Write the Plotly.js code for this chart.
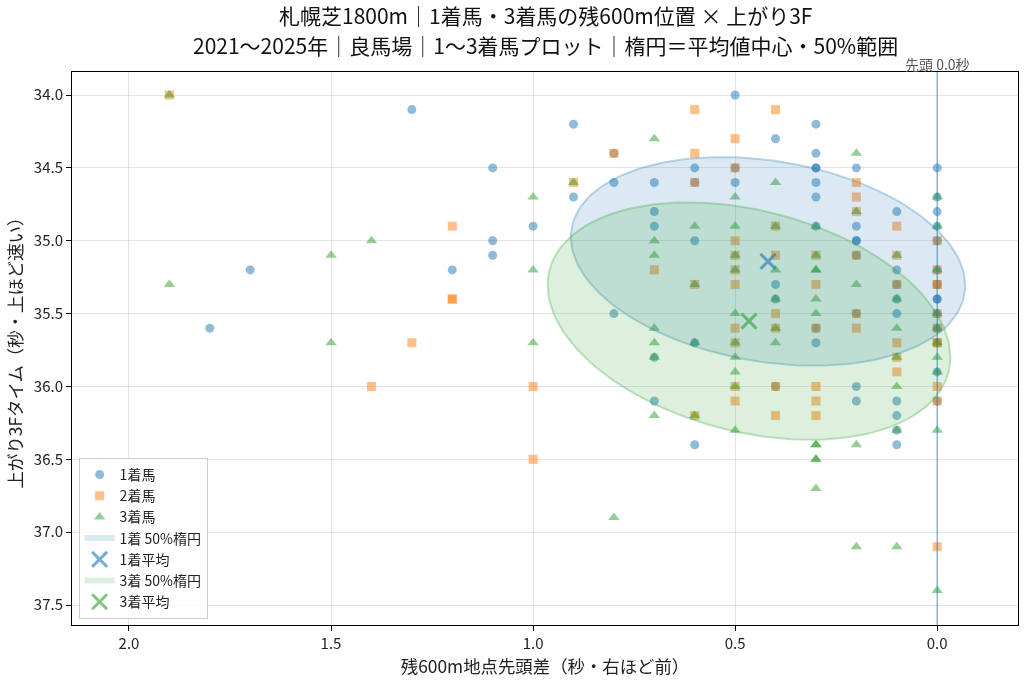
<!DOCTYPE html>
<html>
<head>
<meta charset="utf-8">
<script src="https://cdn.plot.ly/plotly-3.0.1.min.js"></script>
<style>
  html, body { margin: 0; padding: 0; background: #fff; }
  #chart { width: 1024px; height: 681px; }
  #chart .main-svg { will-change: transform; }
</style>
</head>
<body>
<div id="chart"></div>
<script>
// ---- Data (x: 残600m地点先頭差 秒, y: 上がり3F 秒) ----
const first_x = [1.3,1.1,1.0,1.1,1.1,1.7,1.2,1.8,0.9,0.9,0.8,0.8,0.8,
  0.7,0.7,0.7,0.7,0.7,
  0.6,0.6,0.6,0.6,0.6,
  0.5,0.5,0.5,
  0.4,0.4,0.4,0.4,
  0.3,0.3,0.3,0.3,0.3,0.3,0.3,0.3,0.3,
  0.2,0.2,0.2,0.2,0.2,0.2,0.2,0.2,
  0.1,0.1,0.1,0.1,0.1,0.1,0.1,0.1,0.1,
  0.0,0.0,0.0,0.0,0.0,0.0,0.0,0.0,0.0,0.0,0.0,0.0,0.0,0.0];
const first_y = [34.1,34.5,34.9,35.0,35.1,35.2,35.2,35.6,34.2,34.7,34.4,34.6,35.5,
  34.6,34.8,34.9,35.8,36.1,
  34.5,34.6,35.0,35.7,36.4,
  34.0,34.5,34.6,
  34.3,35.3,35.4,36.0,
  34.2,34.4,34.5,34.5,34.6,34.7,34.9,35.6,35.7,
  34.5,34.9,35.0,35.0,35.1,35.5,36.0,36.1,
  34.8,35.2,35.3,35.4,35.5,36.1,36.2,36.3,36.4,
  34.5,34.7,34.8,34.9,35.0,35.2,35.3,35.4,35.4,35.5,35.6,35.7,35.9,36.1];

const second_x = [1.9,1.2,1.2,1.2,1.3,1.4,1.0,1.0,0.9,0.8,
  0.7,
  0.6,0.6,0.6,0.6,0.6,
  0.5,0.5,0.5,0.5,0.5,0.5,0.5,0.5,0.5,0.5,
  0.4,0.4,0.4,0.4,0.4,0.4,0.4,
  0.3,0.3,0.3,0.3,0.3,0.3,
  0.2,0.2,0.2,0.2,0.2,0.2,
  0.1,0.1,0.1,0.1,0.1,0.1,
  0.0,0.0,0.0,0.0,0.0,0.0,0.0,0.0,0.0,0.0,0.0];
const second_y = [34.0,34.9,35.4,35.4,35.7,36.0,36.0,36.5,34.6,34.4,
  35.2,
  34.1,34.4,34.6,35.3,36.2,
  34.3,34.5,35.0,35.1,35.2,35.3,35.6,35.7,36.0,36.1,
  34.1,34.9,35.1,35.5,35.6,36.0,36.2,
  35.1,35.3,35.6,36.0,36.1,36.2,
  34.6,34.7,34.8,35.1,35.5,35.6,
  34.9,35.1,35.3,35.7,35.8,35.9,
  35.0,35.2,35.3,35.3,35.5,35.6,35.7,35.7,36.0,36.1,37.1];

const third_x = [1.9,1.0,1.4,1.5,1.0,1.9,1.5,1.0,0.9,0.8,
  0.7,0.7,0.7,0.7,0.7,0.7,0.7,
  0.6,0.6,0.6,0.6,
  0.5,0.5,0.5,0.5,0.5,0.5,0.5,0.5,0.5,0.5,
  0.4,0.4,0.4,0.4,0.4,0.4,
  0.3,0.3,0.3,0.3,0.3,0.3,0.3,0.3,0.3,0.3,0.3,
  0.2,0.2,0.2,0.2,0.2,
  0.1,0.1,0.1,0.1,0.1,0.1,0.1,
  0.0,0.0,0.0,0.0,0.0,0.0,0.0,0.0,0.0,0.0];
const third_y = [34.0,34.7,35.0,35.1,35.2,35.3,35.7,35.7,34.6,36.9,
  34.3,35.0,35.1,35.6,35.7,35.8,36.2,
  34.9,35.3,35.7,36.2,
  34.7,34.9,35.1,35.2,35.5,35.7,35.8,35.9,36.0,36.3,
  34.6,34.9,35.2,35.4,35.6,35.7,
  34.9,35.1,35.2,35.2,35.4,35.5,36.4,36.4,36.5,36.5,36.7,
  34.4,34.8,35.3,36.4,37.1,
  35.1,35.4,35.6,35.8,36.0,36.3,37.1,
  34.7,34.9,35.2,35.5,35.6,35.7,35.8,35.9,36.3,37.4];

const x_ticks = [0.0, 0.5, 1.0, 1.5, 2.0];
const y_ticks = [34.0, 34.5, 35.0, 35.5, 36.0, 36.5, 37.0, 37.5];
const ellipse_coverage = 0.5;   // 50% 範囲
const leader_line_x = 0.0;
const title_lines = [
  '札幌芝1800m｜1着馬・3着馬の残600m位置 × 上がり3F',
  '2021～2025年｜良馬場｜1～3着馬プロット｜楕円＝平均値中心・50%範囲'
];

// ---- Derived statistics ----
function stats(xs, ys) {
  const n = xs.length;
  const mx = xs.reduce((a, b) => a + b, 0) / n;
  const my = ys.reduce((a, b) => a + b, 0) / n;
  let sxx = 0, syy = 0, sxy = 0;
  for (let i = 0; i < n; i++) {
    sxx += (xs[i] - mx) ** 2;
    syy += (ys[i] - my) ** 2;
    sxy += (xs[i] - mx) * (ys[i] - my);
  }
  sxx /= n; syy /= n; sxy /= n;
  return { mx, my, sx: Math.sqrt(sxx), sy: Math.sqrt(syy), rho: sxy / Math.sqrt(sxx * syy) };
}
function ellipsePath(st) {
  const k = Math.sqrt(-2 * Math.log(1 - ellipse_coverage));
  const ex = [], ey = [];
  const N = 180;
  for (let i = 0; i <= N; i++) {
    const t = 2 * Math.PI * i / N;
    ex.push(st.mx + k * st.sx * Math.cos(t));
    ey.push(st.my + k * st.sy * (st.rho * Math.cos(t) + Math.sqrt(1 - st.rho * st.rho) * Math.sin(t)));
  }
  return { ex, ey };
}
const s1 = stats(first_x, first_y);
const s3 = stats(third_x, third_y);
const e1 = ellipsePath(s1);
const e3 = ellipsePath(s3);

const FONT = '"Noto Sans CJK JP", "Noto Sans", sans-serif';
const BLUE = '#1f77b4', ORANGE = '#ff7f0e', GREEN = '#2ca02c';

const traces = [
  { x: first_x, y: first_y, type: 'scatter', mode: 'markers', name: '1着馬', legendrank: 1,
    marker: { symbol: 'circle', size: 9, color: BLUE, opacity: 0.5, line: { width: 0 } } },
  { x: second_x, y: second_y, type: 'scatter', mode: 'markers', name: '2着馬', legendrank: 2,
    marker: { symbol: 'square', size: 9, color: ORANGE, opacity: 0.5, line: { width: 0 } } },
  { x: third_x, y: third_y, type: 'scatter', mode: 'markers', name: '3着馬', legendrank: 3,
    marker: { symbol: 'triangle-up', size: 10, color: GREEN, opacity: 0.5, line: { width: 0 } } },
  { x: e1.ex, y: e1.ey, type: 'scatter', mode: 'none', name: '1着 50%楕円', legendrank: 4,
    fill: 'toself', fillcolor: 'rgba(31,119,180,0.16)', hoverinfo: 'skip' },
  { x: e1.ex, y: e1.ey, type: 'scatter', mode: 'lines', showlegend: false,
    line: { color: 'rgba(31,119,180,0.28)', width: 2 }, hoverinfo: 'skip' },
  { x: e3.ex, y: e3.ey, type: 'scatter', mode: 'none', name: '3着 50%楕円', legendrank: 6,
    fill: 'toself', fillcolor: 'rgba(44,160,44,0.16)', hoverinfo: 'skip' },
  { x: e3.ex, y: e3.ey, type: 'scatter', mode: 'lines', showlegend: false,
    line: { color: 'rgba(44,160,44,0.28)', width: 2 }, hoverinfo: 'skip' },
  { x: [s1.mx], y: [s1.my], type: 'scatter', mode: 'markers', name: '1着平均', legendrank: 5,
    marker: { symbol: 'x-thin', size: 15, color: BLUE, opacity: 0.6, line: { width: 3, color: BLUE } } },
  { x: [s3.mx], y: [s3.my], type: 'scatter', mode: 'markers', name: '3着平均', legendrank: 7,
    marker: { symbol: 'x-thin', size: 15, color: GREEN, opacity: 0.6, line: { width: 3, color: GREEN } } }
];

const layout = {
  width: 1024, height: 681,
  margin: { l: 72, r: 6, t: 72, b: 56 },
  paper_bgcolor: '#ffffff', plot_bgcolor: '#ffffff',
  font: { family: FONT, size: 14, color: '#222' },
  xaxis: {
    range: [2.141, -0.2],
    tickvals: x_ticks, ticktext: x_ticks.map(v => v.toFixed(1)),
    showgrid: true, gridcolor: 'rgba(0,0,0,0.1)', gridwidth: 1,
    zeroline: false, showline: true, mirror: true, linecolor: '#000', linewidth: 1,
    ticks: 'outside', ticklen: 5, tickcolor: '#000',
    tickfont: { family: FONT, size: 15, color: '#222' },
    title: { text: '残600m地点先頭差（秒・右ほど前）', font: { family: FONT, size: 17.4, color: '#222' }, standoff: 6 }
  },
  yaxis: {
    range: [37.637, 33.842],
    tickvals: y_ticks, ticktext: y_ticks.map(v => v.toFixed(1)),
    showgrid: true, gridcolor: 'rgba(0,0,0,0.1)', gridwidth: 1,
    zeroline: false, showline: true, mirror: true, linecolor: '#000', linewidth: 1,
    ticks: 'outside', ticklen: 5, tickcolor: '#000',
    tickfont: { family: FONT, size: 15, color: '#222' },
    title: { text: '上がり3Fタイム（秒・上ほど速い）', font: { family: FONT, size: 17.4, color: '#222' }, standoff: 6 }
  },
  shapes: [
    { type: 'line', xref: 'x', yref: 'paper', x0: leader_line_x, x1: leader_line_x, y0: 0, y1: 1,
      line: { color: 'rgba(31,119,180,0.55)', width: 1.3 }, layer: 'above' }
  ],
  annotations: [
    { text: title_lines[0], xref: 'paper', yref: 'paper', x: 0.5, y: 1 + (72 - 15) / 553,
      xanchor: 'center', yanchor: 'middle', showarrow: false,
      font: { family: FONT, size: 21, color: '#111' } },
    { text: title_lines[1], xref: 'paper', yref: 'paper', x: 0.5, y: 1 + (72 - 45.5) / 553,
      xanchor: 'center', yanchor: 'middle', showarrow: false,
      font: { family: FONT, size: 21, color: '#111' } },
    { text: '先頭 0.0秒', xref: 'x', yref: 'paper', x: leader_line_x, y: 1, xanchor: 'center', yanchor: 'bottom',
      yshift: -4, showarrow: false, font: { family: FONT, size: 14, color: '#555' } }
  ],
  showlegend: true,
  legend: {
    x: 0.007, y: 0.011, xanchor: 'left', yanchor: 'bottom',
    bgcolor: 'rgba(255,255,255,0.85)', bordercolor: '#cccccc', borderwidth: 1,
    font: { family: FONT, size: 14, color: '#222' }, tracegroupgap: 0
  }
};

Plotly.newPlot('chart', traces, layout, { displayModeBar: false, staticPlot: true });
</script>
</body>
</html>
